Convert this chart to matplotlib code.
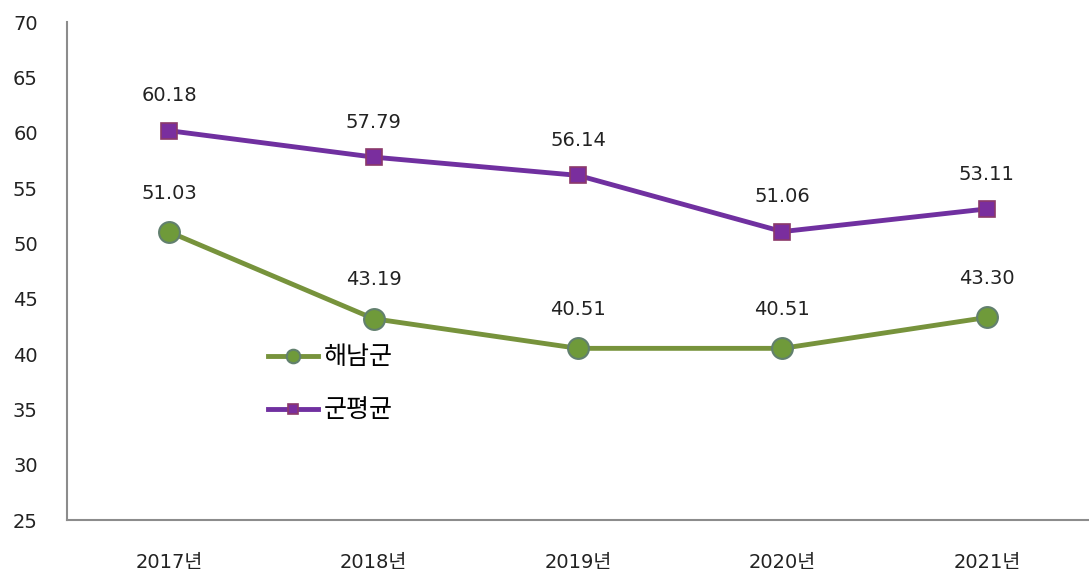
import matplotlib.pyplot as plt

plt.rcParams['font.family'] = ['DejaVu Sans', 'Noto Sans CJK KR']

years = ['2017년', '2018년', '2019년', '2020년', '2021년']
haenam = [51.03, 43.19, 40.51, 40.51, 43.30]
county_avg = [60.18, 57.79, 56.14, 51.06, 53.11]

fig = plt.figure(figsize=(10.89, 5.78), dpi=100)
ax = fig.add_axes([67 / 1089, 1 - 520 / 578, 1022 / 1089, 498 / 578])

x = range(len(years))
ax.plot(x, haenam, '-o', color='#77933C', lw=3.5, ms=15,
        mfc='#6F9A3A', mec='#62806E', mew=1.5, label='해남군', zorder=3)
ax.plot(x, county_avg, '-s', color='#7030A0', lw=3.5, ms=11,
        mfc='#7A2E9E', mec='#8B3A6A', mew=1.2, label='군평균', zorder=3)

for i in x:
    ax.annotate('{:.2f}'.format(haenam[i]), (i, haenam[i]), xytext=(0, 28),
                textcoords='offset points', ha='center', va='center',
                fontsize=14, color='#222222')
    ax.annotate('{:.2f}'.format(county_avg[i]), (i, county_avg[i]), xytext=(0, 25),
                textcoords='offset points', ha='center', va='center',
                fontsize=14, color='#222222')

ax.set_xlim(-0.5, 4.5)
ax.set_ylim(25, 70)
ax.set_yticks(range(25, 71, 5))
ax.set_xticks(list(x))
ax.set_xticklabels(years)
ax.tick_params(axis='both', length=0, labelsize=14, colors='#222222')
ax.tick_params(axis='x', pad=24)
ax.tick_params(axis='y', pad=21)

for s in ['top', 'right']:
    ax.spines[s].set_visible(False)
for s in ['left', 'bottom']:
    ax.spines[s].set_color('#8C8C8C')
    ax.spines[s].set_linewidth(1.5)

ax.legend(loc='upper left', bbox_to_anchor=(183 / 1022, 192 / 498), frameon=False,
          fontsize=18, handlelength=2.0, labelspacing=1.15, handletextpad=0.25,
          markerscale=0.65, borderpad=0.2)

fig.savefig('out.png', dpi=100)
